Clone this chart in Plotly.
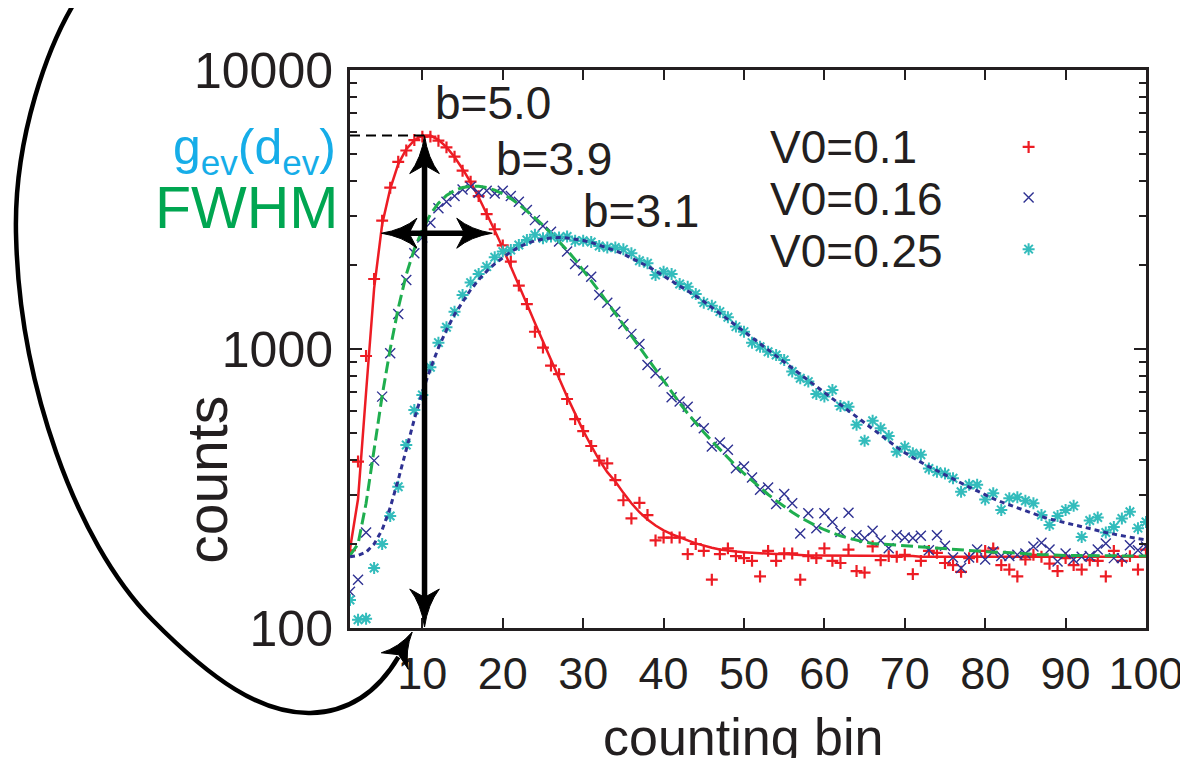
import numpy as np
import plotly.graph_objects as go

# ---------------- data ----------------
bins = list(range(1, 101))

counts_v010 = [190, 395, 944, 1782, 2884, 3785, 4688, 5146, 5610, 5770,
               5770, 5580, 5280, 4890, 4356, 3981, 3530, 3043, 2687, 2350,
               2056, 1687, 1449, 1153, 1011, 872, 813, 662, 561, 508,
               449, 398, 389, 339, 287, 247, 281, 254, 206, 211,
               211, 211, 184, 200, 189, 149, 184, 193, 181, 178,
               174, 153, 189, 174, 185, 185, 149, 181, 178, 193,
               174, 171, 191, 160, 158, 196, 175, 181, 180, 183,
               156, 174, 189, 186, 171, 168, 159, 178, 180, 189,
               193, 168, 162, 153, 176, 183, 180, 170, 160, 178,
               168, 162, 175, 174, 153, 189, 174, 181, 162, 191]

counts_v016 = [135, 149, 220, 398, 675, 966, 1334, 1767, 2202, 2512,
               2836, 3193, 3373, 3533, 3733, 3818, 3631, 3690, 3611, 3690,
               3533, 3373, 3148, 2897, 2761, 2632, 2427, 2234, 2018, 1910,
               1817, 1562, 1466, 1361, 1230, 1133, 1043, 877, 819, 764,
               671, 648, 621, 549, 520, 447, 462, 435, 374, 379,
               346, 313, 319, 278, 302, 280, 218, 258, 228, 258,
               240, 221, 259, 215, 210, 223, 206, 193, 215, 211,
               210, 214, 190, 215, 197, 179, 164, 179, 191, 176,
               188, 181, 181, 183, 185, 196, 202, 191, 173, 185,
               176, 180, 181, 191, 201, 178, 178, 198, 190, 196]

counts_v025 = [126, 107, 108, 164, 200, 252, 321, 453, 604, 684,
               860, 1054, 1197, 1361, 1563, 1730, 1858, 1973, 2133, 2234,
               2265, 2360, 2460, 2565, 2495, 2530, 2510, 2530, 2445, 2445,
               2420, 2340, 2310, 2310, 2276, 2202, 2073, 2029, 1842, 1893,
               1858, 1710, 1672, 1574, 1466, 1430, 1361, 1300, 1203, 1154,
               1054, 1019, 978, 952, 914, 830, 785, 764, 690, 675,
               713, 625, 621, 535, 469, 553, 520, 488, 428, 446,
               423, 418, 373, 363, 358, 344, 308, 326, 326, 289,
               304, 265, 292, 294, 286, 280, 254, 234, 252, 265,
               274, 212, 243, 249, 220, 230, 247, 261, 228, 240]

fit_v010 = [192, 290, 700, 1650, 2800, 3750, 4600, 5200, 5600, 5820,
            5820, 5620, 5290, 4880, 4420, 3960, 3500, 3060, 2660, 2300,
            1980, 1700, 1450, 1240, 1060, 910, 785, 675, 585, 510,
            450, 400, 362, 335, 305, 280, 260, 245, 233, 224,
            217, 211, 206, 201, 197, 194, 191, 189, 188, 187,
            186, 185, 185, 184, 184, 183, 183, 182, 182, 182,
            182, 181, 181, 181, 181, 181, 181, 181, 181, 181,
            181, 180, 180, 180, 180, 180, 180, 180, 180, 180,
            180, 180, 180, 180, 180, 180, 180, 180, 180, 180,
            180, 180, 180, 180, 180, 180, 180, 180, 180, 180]

fit_v016 = [182, 200, 280, 430, 680, 1000, 1400, 1850, 2280, 2670,
            3040, 3330, 3550, 3700, 3790, 3830, 3830, 3790, 3710, 3600,
            3460, 3300, 3130, 2950, 2780, 2600, 2430, 2260, 2090, 1920,
            1760, 1610, 1470, 1340, 1220, 1110, 1010, 920, 840, 765,
            700, 640, 588, 542, 503, 468, 436, 407, 381, 358,
            337, 318, 301, 286, 272, 260, 249, 240, 232, 225,
            219, 214, 210, 206, 203, 201, 200, 199, 198, 198,
            197, 196, 195, 194, 193, 192, 191, 190, 189, 188,
            187, 187, 186, 185, 184, 184, 183, 183, 182, 182,
            182, 182, 181, 181, 181, 181, 181, 181, 181, 181]

fit_v025 = [180, 182, 187, 200, 225, 270, 340, 440, 560, 700,
            850, 1010, 1170, 1330, 1480, 1630, 1770, 1900, 2020, 2130,
            2230, 2320, 2390, 2440, 2480, 2500, 2510, 2500, 2480, 2450,
            2410, 2360, 2310, 2250, 2190, 2120, 2050, 1980, 1905, 1830,
            1760, 1690, 1620, 1550, 1480, 1410, 1345, 1280, 1220, 1160,
            1100, 1045, 995, 945, 900, 855, 812, 772, 734, 698,
            664, 632, 600, 570, 542, 515, 490, 467, 445, 425,
            408, 393, 379, 366, 354, 342, 331, 320, 310, 300,
            291, 283, 276, 269, 263, 257, 251, 246, 242, 238,
            234, 230, 227, 223, 220, 217, 214, 211, 209, 207]

series_names = ["V0=0.1", "V0=0.16", "V0=0.25"]
b_labels = ["b=5.0", "b=3.9", "b=3.1"]
x_ticks = [10, 20, 30, 40, 50, 60, 70, 80, 90, 100]
y_ticks = [100, 1000, 10000]

# ---------------- style ----------------
RED = "#ed1c24"
BLUE = "#2e3192"
CYAN = "#33bcbc"
GREEN = "#1fae4f"
NAVY = "#2e3192"
INK = "#231f20"
FONT = "Liberation Sans, Arial, Helvetica, sans-serif"

W, H = 1188, 758
PAGE_OFF = 8                 # the page body margin shifts the figure by 8 px
REF_L, REF_T = 350, 70       # plot-area corner as seen on screen
PW, PH = 806, 558
ML, MT = REF_L - PAGE_OFF, REF_T - PAGE_OFF
MR, MB = W - ML - PW, H - MT - PH
XR = (1, 100)
YR = (2, 4)  # log10 range


def xpx(x):
    return REF_L + (x - XR[0]) / (XR[1] - XR[0]) * PW


def ypx(v):
    return REF_T + PH - (np.log10(v) - YR[0]) / (YR[1] - YR[0]) * PH


def to_paper(px, py):
    return (px - REF_L) / PW, (REF_T + PH - py) / PH


def path_from_px(cmds):
    out = []
    for c in cmds:
        if isinstance(c, str):
            out.append(c)
        else:
            px, py = to_paper(*c)
            out.append(f"{px:.5f},{py:.5f}")
    return " ".join(out)


def arrowhead(tip, d, L=36, Wd=15):
    tx, ty = tip
    dx, dy = d
    n = np.hypot(dx, dy)
    dx, dy = dx / n, dy / n
    nx, ny = -dy, dx

    def P(u, v):  # u backwards from tip, v sideways
        return (tx - u * dx + v * nx, ty - u * dy + v * ny)

    return path_from_px(["M", P(0, 0), "Q", P(0.6 * L, 0.22 * Wd), P(L, Wd),
                         "L", P(0.78 * L, 0), "L", P(L, -Wd),
                         "Q", P(0.6 * L, -0.22 * Wd), P(0, 0), "Z"])


fig = go.Figure()

MK = [("cross-thin", 8.5, RED, 2.2), ("x-thin", 10, BLUE, 1.4), ("asterisk", 10, CYAN, 2.0)]

# data points and fits
fig.add_trace(go.Scatter(x=bins, y=counts_v010, mode="markers", name=series_names[0],
                         marker=dict(symbol=MK[0][0], size=MK[0][1], color=RED,
                                     line=dict(color=RED, width=MK[0][3]))))
fig.add_trace(go.Scatter(x=bins, y=fit_v010, mode="lines", line=dict(color=RED, width=2.5),
                         showlegend=False))
fig.add_trace(go.Scatter(x=bins, y=counts_v016, mode="markers", name=series_names[1],
                         marker=dict(symbol=MK[1][0], size=MK[1][1], color=BLUE,
                                     line=dict(color=BLUE, width=MK[1][3]))))
fig.add_trace(go.Scatter(x=bins, y=fit_v016, mode="lines", line=dict(color=GREEN, width=3, dash="12px,5px"),
                         showlegend=False))
fig.add_trace(go.Scatter(x=bins, y=counts_v025, mode="markers", name=series_names[2],
                         marker=dict(symbol=MK[2][0], size=MK[2][1], color=CYAN,
                                     line=dict(color=CYAN, width=MK[2][3]))))
fig.add_trace(go.Scatter(x=bins, y=fit_v025, mode="lines", line=dict(color=NAVY, width=3, dash="5px,4px"),
                         showlegend=False))

# gnuplot-style key: text left, sample right
key_x = 85.4
key_y = [5300, 3490, 2280]
for (sym, sz, col, lw), ky in zip(MK, key_y):
    fig.add_trace(go.Scatter(x=[key_x], y=[ky], mode="markers", showlegend=False,
                             marker=dict(symbol=sym, size=sz, color=col, line=dict(color=col, width=lw))))

annotations = []
key_text_y = [147, 199, 251]
for name, py in zip(series_names, key_text_y):
    px_, pyp = to_paper(773, py)
    annotations.append(dict(x=px_, y=pyp, xref="paper", yref="paper", text=name, showarrow=False,
                            xanchor="left", yanchor="middle", font=dict(size=46, color=INK, family=FONT)))

b_pos = [(495, 103), (557, 159), (645, 211)]
for t, (bx, by) in zip(b_labels, b_pos):
    px_, pyp = to_paper(bx, by)
    annotations.append(dict(x=px_, y=pyp, xref="paper", yref="paper", text=t, showarrow=False,
                            xanchor="center", yanchor="middle", font=dict(size=46, color=INK, family=FONT)))

# left-side labels
gx, gy = to_paper(338, 150)
annotations.append(dict(x=gx, y=gy, xref="paper", yref="paper",
                        text="g<sub>ev</sub>(d<sub>ev</sub>)", showarrow=False,
                        xanchor="right", yanchor="middle", font=dict(size=50, color="#16ade8", family=FONT)))
fx, fy = to_paper(340, 208)
annotations.append(dict(x=fx, y=fy, xref="paper", yref="paper", text="FWHM", showarrow=False,
                        xanchor="right", yanchor="middle", font=dict(size=59, color="#00a651", family=FONT)))

# axis titles
tx_, ty_ = to_paper(748, 737)
annotations.append(dict(x=tx_, y=ty_, xref="paper", yref="paper", text="counting bin", showarrow=False,
                        xanchor="center", yanchor="middle", font=dict(size=52, color=INK, family=FONT)))
cx_, cy_ = to_paper(205, 480)
annotations.append(dict(x=cx_, y=cy_, xref="paper", yref="paper", text="counts", showarrow=False,
                        textangle=-90, xanchor="center", yanchor="middle",
                        font=dict(size=57, color=INK, family=FONT)))

# ---------------- arrows / guides ----------------
shapes = []
peak = max(fit_v010)
x_peak = 10.27
y_px_peak = ypx(peak)

# dashed guide to the peak
p0 = to_paper(xpx(1), y_px_peak)
p1 = to_paper(xpx(x_peak), y_px_peak)
shapes.append(dict(type="line", xref="paper", yref="paper", x0=p0[0], y0=p0[1], x1=p1[0], y1=p1[1],
                   line=dict(color="black", width=2, dash="10px,6px"), layer="above"))

# vertical double arrow
vx = xpx(x_peak)
vt = y_px_peak
vb = ypx(100) - 1
a = to_paper(vx, vt + 28)
b = to_paper(vx, vb - 28)
shapes.append(dict(type="line", xref="paper", yref="paper", x0=a[0], y0=a[1], x1=b[0], y1=b[1],
                   line=dict(color="black", width=5.5), layer="above"))
shapes.append(dict(type="path", xref="paper", yref="paper", path=arrowhead((vx, vt), (0, -1), 38, 15),
                   fillcolor="black", line=dict(color="black", width=1), layer="above"))
shapes.append(dict(type="path", xref="paper", yref="paper", path=arrowhead((vx, vb), (0, 1), 38, 15),
                   fillcolor="black", line=dict(color="black", width=1), layer="above"))

# horizontal (FWHM) double arrow
hy = ypx(2600)
hl, hr = xpx(4.9), xpx(18.7)
a = to_paper(hl + 26, hy)
b = to_paper(hr - 26, hy)
shapes.append(dict(type="line", xref="paper", yref="paper", x0=a[0], y0=a[1], x1=b[0], y1=b[1],
                   line=dict(color="black", width=5.5), layer="above"))
shapes.append(dict(type="path", xref="paper", yref="paper", path=arrowhead((hl, hy), (-1, 0), 36, 15),
                   fillcolor="black", line=dict(color="black", width=1), layer="above"))
shapes.append(dict(type="path", xref="paper", yref="paper", path=arrowhead((hr, hy), (1, 0), 36, 15),
                   fillcolor="black", line=dict(color="black", width=1), layer="above"))

# big curved arrow on the left
curve = path_from_px(["M", (78, -8), "C", (45, 40), (8, 140), (12, 240),
                      "C", (16, 380), (70, 540), (150, 620),
                      "C", (210, 680), (260, 714), (310, 713),
                      "C", (350, 712), (378, 692), (399, 657)])
shapes.append(dict(type="path", xref="paper", yref="paper", path=curve,
                   line=dict(color="black", width=4.5), layer="above"))
shapes.append(dict(type="path", xref="paper", yref="paper", path=arrowhead((413, 632), (0.518, -0.854), 34, 16),
                   fillcolor="black", line=dict(color="black", width=1), layer="above"))

fig.update_layout(
    width=W, height=H,
    margin=dict(l=ML, r=MR, t=MT, b=MB, pad=0),
    plot_bgcolor="white", paper_bgcolor="white",
    showlegend=False,
    font=dict(family=FONT, color=INK),
    annotations=annotations,
    shapes=shapes,
)

fig.update_xaxes(range=list(XR), tickmode="array", tickvals=x_ticks, ticktext=[str(t) for t in x_ticks],
                 ticks="inside", ticklen=10, tickwidth=2, tickcolor=INK,
                 showline=True, linewidth=3, linecolor=INK, mirror="ticks",
                 showgrid=False, zeroline=False, ticklabelstandoff=4, ticklabeloverflow="allow",
                 tickfont=dict(size=45, color=INK, family=FONT))
fig.update_yaxes(type="log", range=list(YR), tickmode="array", tickvals=y_ticks,
                 ticktext=[str(t) for t in y_ticks],
                 ticks="inside", ticklen=12, tickwidth=2, tickcolor=INK,
                 minor=dict(ticks="inside", ticklen=7, tickwidth=2, tickcolor=INK, dtick="D1", showgrid=False),
                 showline=True, linewidth=3, linecolor=INK, mirror="ticks",
                 showgrid=False, zeroline=False, ticklabelstandoff=4,
                 tickfont=dict(size=50, color=INK, family=FONT))

fig.write_html("out.html")
